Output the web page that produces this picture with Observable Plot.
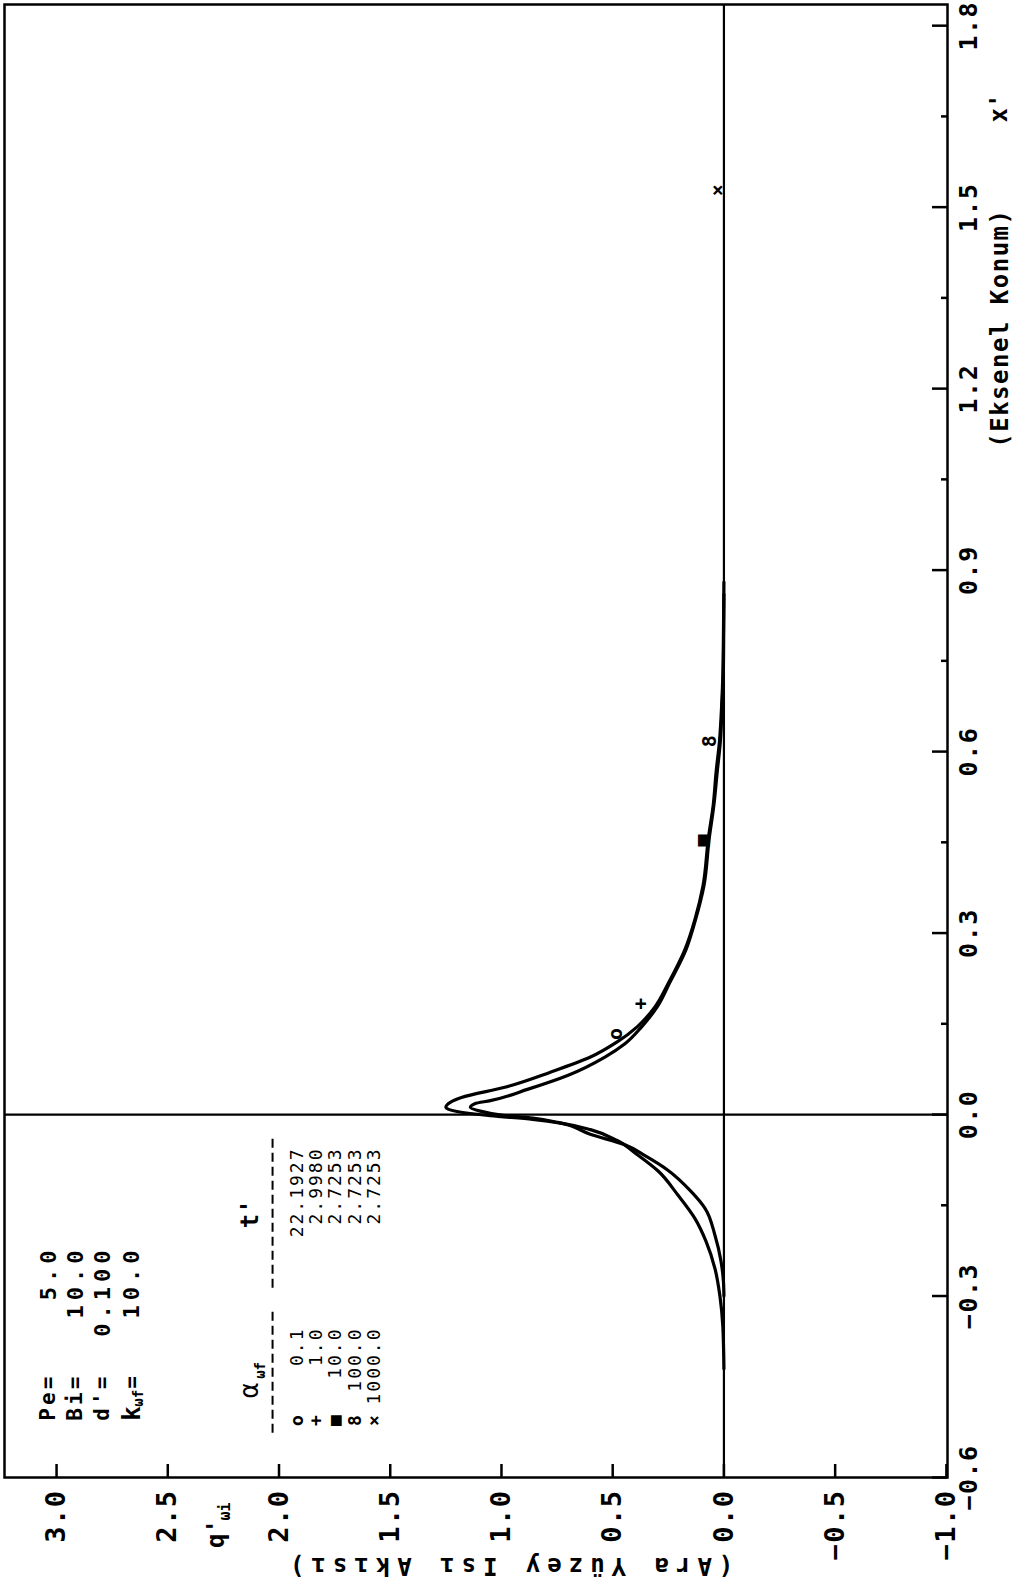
<!DOCTYPE html>
<html>
<head>
<meta charset="utf-8">
<script src="https://cdn.jsdelivr.net/npm/d3@7"></script>
<script src="https://cdn.jsdelivr.net/npm/@observablehq/plot@0.6"></script>
<style>
  body { margin: 0; background: #fff; }
  #chart { width: 1013px; height: 1588px; }
  g[aria-description="sp1"] text { letter-spacing: 1.5px; }
  g[aria-description="sp2"] text { letter-spacing: 2px; }
  g[aria-description="sp3"] text { letter-spacing: 3px; }
  g[aria-description="sp5"] text { letter-spacing: 5px; }
  g[aria-description="sp7"] text { letter-spacing: 7px; }
</style>
</head>
<body>
<div id="chart"></div>
<script>
// ---- data: [x' (axial position), q'wi (interface heat flux)] ----
const curveAlpha01 = [
  [-0.42, 0.0], [-0.35, 0.005], [-0.30, 0.018], [-0.255, 0.04], [-0.21, 0.08],
  [-0.172, 0.13], [-0.133, 0.207], [-0.093, 0.297], [-0.067, 0.387], [-0.043, 0.48],
  [-0.025, 0.60], [-0.015, 0.72], [-0.008, 0.86], [-0.002, 1.05], [0.005, 1.20],
  [0.012, 1.25], [0.02, 1.23], [0.028, 1.18], [0.045, 0.985], [0.07, 0.78],
  [0.095, 0.60], [0.12, 0.48], [0.145, 0.39], [0.178, 0.31], [0.217, 0.25],
  [0.273, 0.175], [0.323, 0.13], [0.378, 0.094], [0.457, 0.07], [0.512, 0.048],
  [0.567, 0.035], [0.617, 0.02], [0.678, 0.01], [0.725, 0.005], [0.80, 0.002], [0.88, 0.0]
];
const curveAlpha1to1000 = [
  [-0.30, 0.0], [-0.277, 0.002], [-0.243, 0.013], [-0.20, 0.04], [-0.155, 0.085],
  [-0.127, 0.148], [-0.092, 0.252], [-0.068, 0.355], [-0.05, 0.445], [-0.033, 0.598],
  [-0.013, 0.746], [-0.006, 0.86], [-0.001, 1.0], [0.006, 1.10], [0.012, 1.14],
  [0.018, 1.12], [0.023, 1.05], [0.042, 0.88], [0.065, 0.70], [0.095, 0.535],
  [0.117, 0.445], [0.145, 0.37], [0.178, 0.30], [0.217, 0.245], [0.273, 0.17],
  [0.323, 0.127], [0.378, 0.09], [0.457, 0.066], [0.512, 0.045], [0.567, 0.03],
  [0.617, 0.016], [0.678, 0.008], [0.725, 0.003], [0.80, 0.001], [0.86, 0.0]
];
const markerSymbols = ["o", "+", "■", "8", "×"];
const markerQ = [0.485, 0.373, 0.094, 0.063, 0.03];
const markerX = [0.133, 0.183, 0.453, 0.617, 1.528];

const qTicks = [3.0, 2.5, 2.0, 1.5, 1.0, 0.5, 0.0, -0.5, -1.0];
const xTicksMajor = [-0.6, -0.3, 0.0, 0.3, 0.6, 0.9, 1.2, 1.5, 1.8];
const xTicksMinor = [-0.15, 0.15, 0.45, 0.75, 1.05, 1.35, 1.65];

const paramLabels = ["Pe=", "Bi=", "d'="];
const paramValues = ["5.0", "10.0", "0.100", "10.0"];
const legendSymbols = ["o", "+", "■", "8", "×"];
const alphaValues = ["0.1", "1.0", "10.0", "100.0", "1000.0"];
const tValues = ["22.1927", "2.9980", "2.7253", "2.7253", "2.7253"];

const xTitle = "(Eksenel Konum)";
const yTitle = "(Ara Yüzey Isı Akısı)";

// ---- chart ----
const fmt = d3.format(".1f");
const paramRowQ = [3.036, 2.915, 2.793, 2.66];
const legendRowQ = legendSymbols.map((_, i) => 1.92 - 0.087 * i);
const bold = {fontWeight: "bold"};

const plot = Plot.plot({
  width: 1013,
  height: 1588,
  marginLeft: 4,
  marginTop: 4,
  marginRight: 66,
  marginBottom: 111,
  x: {domain: [3.234, -1.005]},
  y: {domain: [-0.6, 1.835]},
  style: {fontFamily: "'DejaVu Sans Mono', monospace", background: "#fff", color: "#000", overflow: "visible"},
  marks: [
    Plot.frame({stroke: "#000", strokeWidth: 2.5}),
    Plot.ruleX([0], {stroke: "#000", strokeWidth: 2.2}),
    Plot.ruleY([0], {stroke: "#000", strokeWidth: 2.2}),
    Plot.tickX(qTicks, {x: d => d, insetTop: 1460, strokeWidth: 2.5}),
    Plot.tickY(xTicksMajor, {y: d => d, insetLeft: 928, strokeWidth: 2.5}),
    Plot.tickY(xTicksMinor, {y: d => d, insetLeft: 937, strokeWidth: 2.5}),
    Plot.axisX(qTicks, {anchor: "bottom", tickSize: 0, tickPadding: 12, tickRotate: -90, tickFormat: fmt, fontSize: 27, ...bold, label: null, ariaDescription: "sp1"}),
    Plot.axisY(xTicksMajor, {anchor: "right", tickSize: 0, tickPadding: 12, tickRotate: -90, textAnchor: "middle", lineAnchor: "top", tickFormat: fmt, fontSize: 25, ...bold, label: null, ariaDescription: "sp1"}),
    // curves
    Plot.line(curveAlpha01, {x: d => d[1], y: d => d[0], stroke: "#000", strokeWidth: 3.2, curve: "monotone-y"}),
    Plot.line(curveAlpha1to1000, {x: d => d[1], y: d => d[0], stroke: "#000", strokeWidth: 3.2, curve: "monotone-y"}),
    // markers
    Plot.text(markerSymbols, {x: (d, i) => markerQ[i], y: (d, i) => markerX[i], text: d => d, rotate: -90, fontSize: 20, ...bold}),
    // axis titles
    Plot.text([yTitle], {x: 0.97, y: -0.6, dy: 88, text: d => d, rotate: 180, fontSize: 24, ...bold, ariaDescription: "sp7"}),
    Plot.text(["q'"], {x: 2.28, y: -0.6, dy: 56, text: d => d, rotate: -90, fontSize: 24, ...bold}),
    Plot.text(["ωi"], {x: 2.24, y: -0.6, dy: 34, text: d => d, rotate: -90, fontSize: 15, ...bold}),
    Plot.text([xTitle], {y: 1.30, frameAnchor: "right", dx: 53, textAnchor: "middle", text: d => d, rotate: -90, fontSize: 24, ...bold, ariaDescription: "sp1"}),
    Plot.text(["x'"], {y: 1.664, frameAnchor: "right", dx: 52, textAnchor: "middle", text: d => d, rotate: -90, fontSize: 24, ...bold}),
    // parameter block
    Plot.text(paramLabels, {x: (d, i) => paramRowQ[i], y: -0.506, text: d => d, rotate: -90, textAnchor: "start", fontSize: 21, ...bold, ariaDescription: "sp3"}),
    Plot.text(["k"], {x: paramRowQ[3], y: -0.506, text: d => d, rotate: -90, textAnchor: "start", fontSize: 24, ...bold}),
    Plot.text(["ωf"], {x: paramRowQ[3] - 0.03, y: -0.483, text: d => d, rotate: -90, textAnchor: "start", fontSize: 14, ...bold}),
    Plot.text(["="], {x: paramRowQ[3], y: -0.443, text: d => d, rotate: -90, fontSize: 21, ...bold}),
    Plot.text(paramValues, {x: (d, i) => paramRowQ[i], y: -0.2165, text: d => d, rotate: -90, textAnchor: "end", fontSize: 22, ...bold, ariaDescription: "sp5"}),
    // series table
    Plot.text(["α"], {x: 2.13, y: -0.456, text: d => d, rotate: -90, fontSize: 26}),
    Plot.text(["ωf"], {x: 2.085, y: -0.423, text: d => d, rotate: -90, fontSize: 14, ...bold}),
    Plot.text(["t'"], {x: 2.13, y: -0.164, text: d => d, rotate: -90, fontSize: 24, ...bold}),
    Plot.ruleX([2.029], {y1: -0.527, y2: -0.325, stroke: "#000", strokeWidth: 2, strokeDasharray: "9,5"}),
    Plot.ruleX([2.029], {y1: -0.287, y2: -0.038, stroke: "#000", strokeWidth: 2, strokeDasharray: "9,5"}),
    Plot.text(legendSymbols, {x: (d, i) => legendRowQ[i], y: -0.506, text: d => d, rotate: -90, fontSize: 18, ...bold}),
    Plot.text(alphaValues, {x: (d, i) => legendRowQ[i], y: -0.352, text: d => d, rotate: -90, textAnchor: "end", fontSize: 18, ariaDescription: "sp2"}),
    Plot.text(tValues, {x: (d, i) => legendRowQ[i], y: -0.0545, text: d => d, rotate: -90, textAnchor: "end", fontSize: 18, ariaDescription: "sp2"})
  ]
});
document.getElementById("chart").appendChild(plot);
</script>
</body>
</html>
